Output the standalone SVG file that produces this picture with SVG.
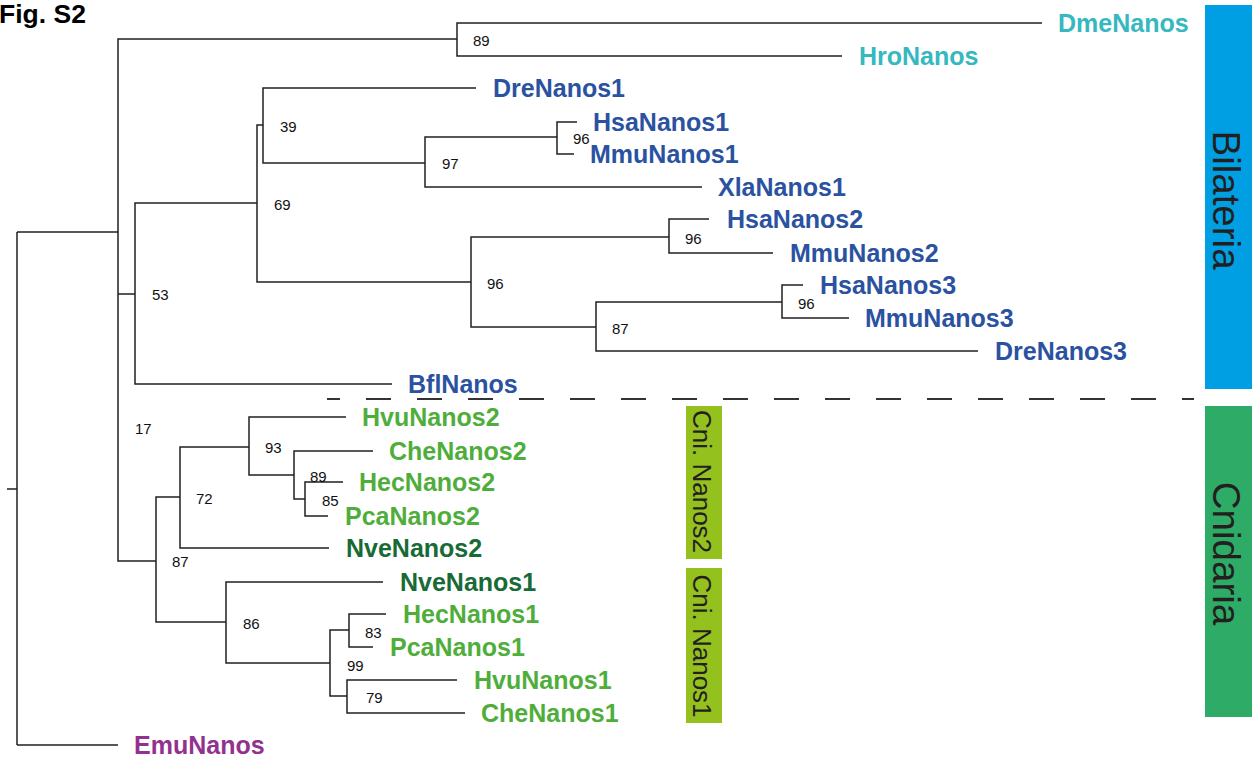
<svg xmlns="http://www.w3.org/2000/svg" width="1252" height="759" viewBox="0 0 1252 759">
<style>
.br{fill:none;stroke:#231f20;stroke-width:1.5}
.tip{font-family:"Liberation Sans",Arial,Helvetica,sans-serif;font-weight:bold;font-size:25px}
.bs{font-family:"Liberation Sans",Arial,sans-serif;font-size:15px;fill:#111}
.box{font-family:"Liberation Sans",Arial,sans-serif;fill:#231f20;text-anchor:middle}
.teal{fill:#35b8c0}.blue{fill:#2a52a0}.lg{fill:#4fae3b}.dg{fill:#186a36}.pur{fill:#93328e}
</style>
<rect width="1252" height="759" fill="#fff"/>
<text id="title" x="-1" y="23" style="font-family:'Liberation Sans',Arial,sans-serif;font-weight:bold;font-size:26.5px" fill="#000">Fig. S2</text>

<g id="groups">
<g id="bilateria"><rect x="1205" y="5" width="47" height="384" fill="#009fe3"/><text class="box" font-size="38.5" transform="translate(1213,200) rotate(90)">Bilateria</text></g>
<g id="cnidaria"><rect x="1205" y="406" width="47" height="311" fill="#2eab67"/><text class="box" font-size="38.5" transform="translate(1213,553.5) rotate(90)">Cnidaria</text></g>
<g id="cni-nanos2"><rect x="686" y="406" width="36" height="153" fill="#95c11f"/><text class="box" font-size="26" transform="translate(693,481.5) rotate(90)">Cni. Nanos2</text></g>
<g id="cni-nanos1"><rect x="686" y="568" width="36" height="155" fill="#95c11f"/><text class="box" font-size="26" transform="translate(693,646) rotate(90)">Cni. Nanos1</text></g>
</g>

<g id="connectors">
<path class="br" d="M7 489H17M17 232V745M17 232H118M17 745H118"/>
<path class="br" d="M457 39H118V561H156M118 294H135"/>
<path class="br" d="M1042 23H457V56H842"/>
<path class="br" d="M257 203H135V384H392"/>
<path class="br" d="M263 125H257V203M257 203V282H471"/>
<path class="br" d="M476 88H263V163H425"/>
<path class="br" d="M557 137H425V187H702"/>
<path class="br" d="M577 122H557V154H574"/>
<path class="br" d="M669 237H471V327H596"/>
<path class="br" d="M709 219H669V253H773"/>
<path class="br" d="M782 302H596V351H978"/>
<path class="br" d="M803 285H782V318H849"/>
<path class="br" d="M180 497H156V622H226"/>
<path class="br" d="M249 447H180V548H329"/>
<path class="br" d="M346 417H249V475H294"/>
<path class="br" d="M373 451H294V499H305"/>
<path class="br" d="M343 482H305V516H328"/>
<path class="br" d="M383 582H226V663H330"/>
<path class="br" d="M349 630H330V696H347"/>
<path class="br" d="M386 614H349V647H373"/>
<path class="br" d="M457 680H347V713H465"/>
<line x1="327" y1="399" x2="1194" y2="399" stroke="#333" stroke-width="2" stroke-dasharray="25 26" stroke-dashoffset="12"/>
</g>

<g id="tips">
<g id="DmeNanos"><text class="tip teal" x="1058" y="32">DmeNanos</text></g>
<g id="HroNanos"><text class="tip teal" x="859" y="65">HroNanos</text></g>
<g id="DreNanos1"><text class="tip blue" x="493" y="97">DreNanos1</text></g>
<g id="HsaNanos1"><text class="tip blue" x="593" y="131">HsaNanos1</text></g>
<g id="MmuNanos1"><text class="tip blue" x="590" y="163">MmuNanos1</text></g>
<g id="XlaNanos1"><text class="tip blue" x="718" y="196">XlaNanos1</text></g>
<g id="HsaNanos2"><text class="tip blue" x="727" y="228">HsaNanos2</text></g>
<g id="MmuNanos2"><text class="tip blue" x="790" y="262">MmuNanos2</text></g>
<g id="HsaNanos3"><text class="tip blue" x="820" y="294">HsaNanos3</text></g>
<g id="MmuNanos3"><text class="tip blue" x="865" y="327">MmuNanos3</text></g>
<g id="DreNanos3"><text class="tip blue" x="995" y="360">DreNanos3</text></g>
<g id="BflNanos"><text class="tip blue" x="408" y="393">BflNanos</text></g>
<g id="HvuNanos2"><text class="tip lg" x="362" y="426">HvuNanos2</text></g>
<g id="CheNanos2"><text class="tip lg" x="389" y="460">CheNanos2</text></g>
<g id="HecNanos2"><text class="tip lg" x="359" y="491">HecNanos2</text></g>
<g id="PcaNanos2"><text class="tip lg" x="345" y="525">PcaNanos2</text></g>
<g id="NveNanos2"><text class="tip dg" x="346" y="557">NveNanos2</text></g>
<g id="NveNanos1"><text class="tip dg" x="400" y="591">NveNanos1</text></g>
<g id="HecNanos1"><text class="tip lg" x="403" y="623">HecNanos1</text></g>
<g id="PcaNanos1"><text class="tip lg" x="390" y="656">PcaNanos1</text></g>
<g id="HvuNanos1"><text class="tip lg" x="474" y="689">HvuNanos1</text></g>
<g id="CheNanos1"><text class="tip lg" x="481" y="722">CheNanos1</text></g>
<g id="EmuNanos"><text class="tip pur" x="134" y="754">EmuNanos</text></g>
</g>

<g id="support">
<g id="n89a"><text class="bs" x="473" y="45.5">89</text></g>
<g id="n39"><text class="bs" x="280" y="131.5">39</text></g>
<g id="n97"><text class="bs" x="442" y="168.5">97</text></g>
<g id="n96a"><text class="bs" x="573" y="143.5">96</text></g>
<g id="n69"><text class="bs" x="274" y="209.5">69</text></g>
<g id="n53"><text class="bs" x="152" y="299.5">53</text></g>
<g id="n96b"><text class="bs" x="487" y="288.5">96</text></g>
<g id="n96c"><text class="bs" x="685" y="243.5">96</text></g>
<g id="n87a"><text class="bs" x="612" y="333.5">87</text></g>
<g id="n96d"><text class="bs" x="798" y="308.5">96</text></g>
<g id="n17"><text class="bs" x="135" y="433.5">17</text></g>
<g id="n93"><text class="bs" x="265" y="452.5">93</text></g>
<g id="n72"><text class="bs" x="196" y="503.5">72</text></g>
<g id="n89b"><text class="bs" x="310" y="481.5">89</text></g>
<g id="n85"><text class="bs" x="322" y="505.5">85</text></g>
<g id="n87b"><text class="bs" x="172" y="566.5">87</text></g>
<g id="n86"><text class="bs" x="243" y="628.5">86</text></g>
<g id="n83"><text class="bs" x="365" y="637.5">83</text></g>
<g id="n99"><text class="bs" x="347" y="670.5">99</text></g>
<g id="n79"><text class="bs" x="366" y="702.5">79</text></g>
</g>
</svg>
